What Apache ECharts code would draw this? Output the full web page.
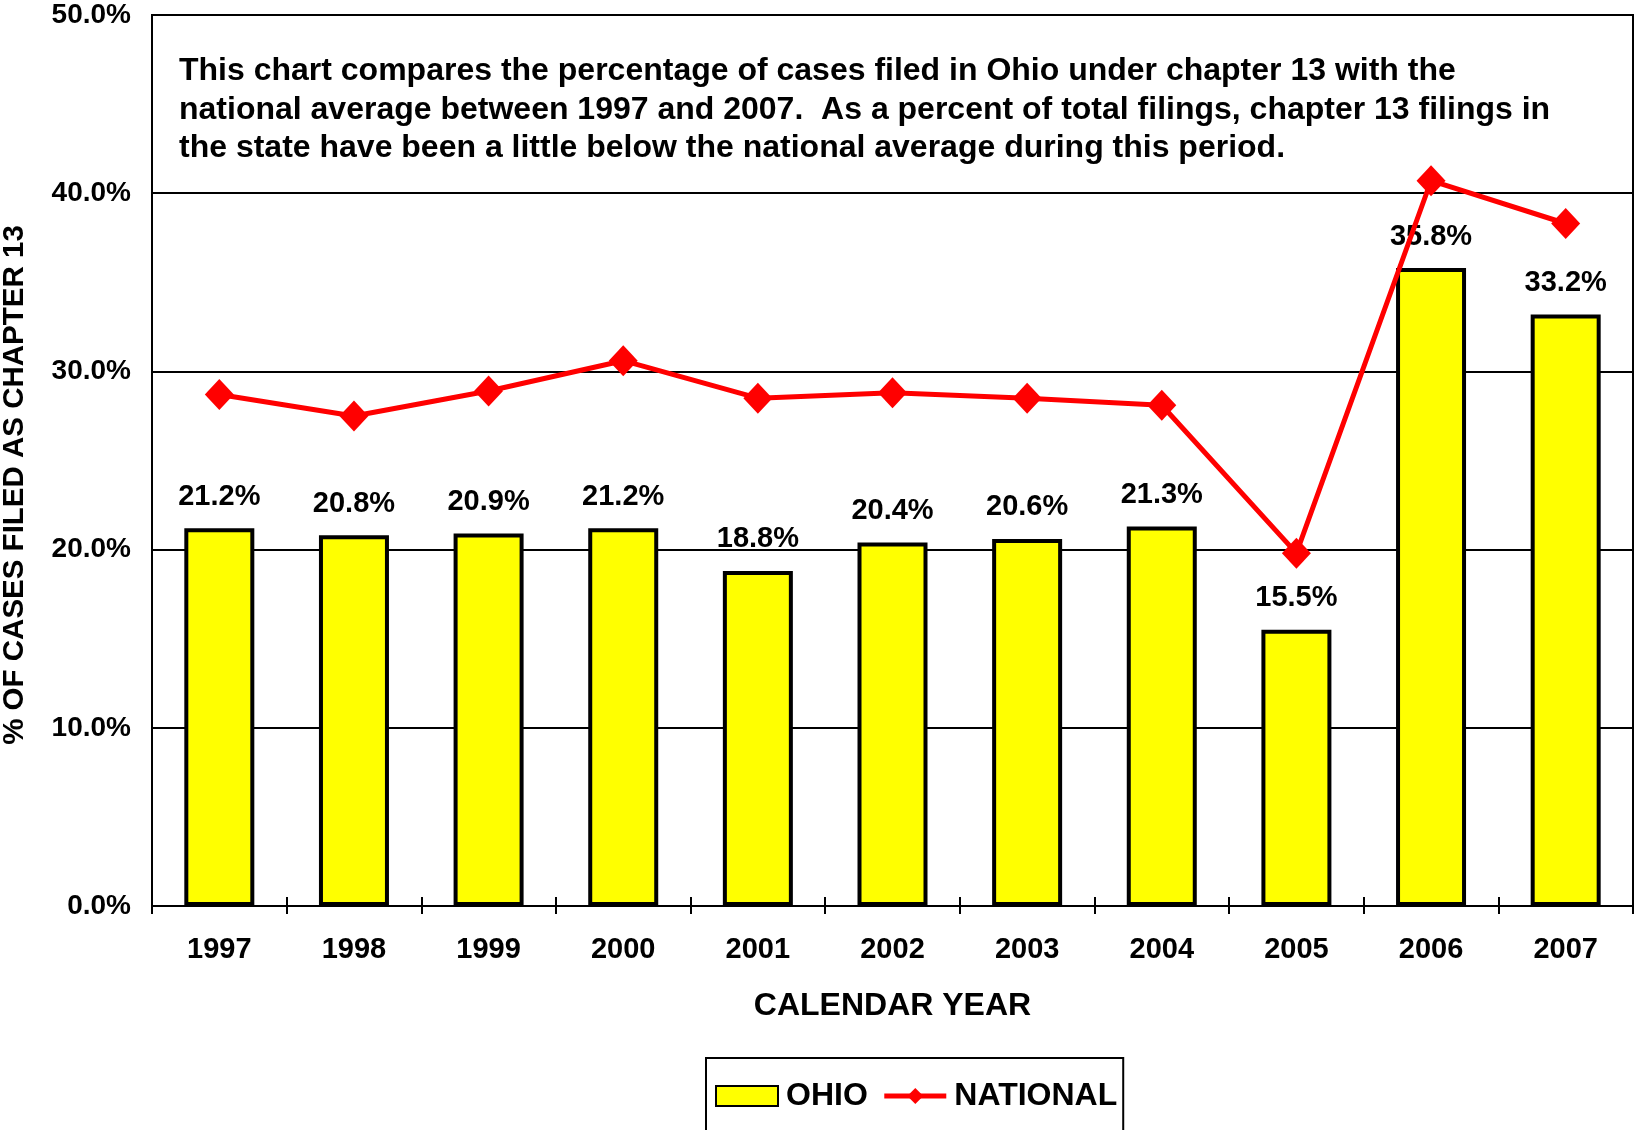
<!DOCTYPE html>
<html>
<head>
<meta charset="utf-8">
<script src="https://cdn.jsdelivr.net/npm/echarts@6/dist/echarts.min.js"></script>
<style>
html,body{margin:0;padding:0;background:#fff;}
#chart{width:1635px;height:1130px;}
</style>
</head>
<body>
<div id="chart"></div>
<script>
var years = ['1997','1998','1999','2000','2001','2002','2003','2004','2005','2006','2007'];
var ohio = [21.2, 20.8, 20.9, 21.2, 18.8, 20.4, 20.6, 21.3, 15.5, 35.8, 33.2];
var national = [28.7, 27.5, 28.9, 30.6, 28.5, 28.8, 28.5, 28.1, 19.8, 40.7, 38.3];
var yTicks = {min: 0, max: 50, interval: 10};
var noteText = 'This chart compares the percentage of cases filed in Ohio under chapter 13 with the\nnational average between 1997 and 2007.  As a percent of total filings, chapter 13 filings in\nthe state have been a little below the national average during this period.';

var FONT = '"Liberation Sans", Arial, sans-serif';
var chart = echarts.init(document.getElementById('chart'), null, {renderer: 'canvas'});
chart.setOption({
  animation: false,
  backgroundColor: '#fff',
  textStyle: {fontFamily: FONT},
  grid: {left: 152, top: 15, right: 2, bottom: 224, show: true, borderColor: '#000', borderWidth: 2},
  legend: {
    left: 706, top: 1058,
    padding: [22, 6, 40, 9],
    borderColor: '#000', borderWidth: 2,
    itemWidth: 62, itemHeight: 20, itemGap: 14,
    lineStyle: {width: 5},
    textStyle: {fontSize: 32, fontWeight: 'bold', color: '#000', fontFamily: FONT, lineHeight: 32, padding: [0, 0, 0, 3]},
    data: [{name: 'OHIO', icon: 'rect'}, {name: 'NATIONAL'}]
  },
  xAxis: [{
    type: 'category', data: years, position: 'bottom',
    axisLine: {lineStyle: {color: '#000', width: 2}},
    axisTick: {show: true, length: 8, lineStyle: {color: '#000', width: 2}},
    axisLabel: {fontSize: 29, fontWeight: 'bold', color: '#000', margin: 29, fontFamily: FONT, lineHeight: 29},
    name: 'CALENDAR YEAR', nameLocation: 'middle', nameGap: 84,
    nameTextStyle: {fontSize: 32, fontWeight: 'bold', color: '#000', fontFamily: FONT, lineHeight: 32}
  }, {
    type: 'category', data: years, position: 'bottom', offset: 0,
    axisLine: {show: false},
    axisTick: {show: true, inside: true, length: 9, lineStyle: {color: '#000', width: 2}},
    axisLabel: {show: false}
  }],
  yAxis: {
    type: 'value', min: yTicks.min, max: yTicks.max, interval: yTicks.interval,
    axisLine: {show: true, lineStyle: {color: '#000', width: 2}},
    axisTick: {show: true, inside: true, length: 8, lineStyle: {color: '#000', width: 2}},
    axisLabel: {fontSize: 28, fontWeight: 'bold', color: '#000', margin: 21, fontFamily: FONT,
      formatter: function (v) { return v.toFixed(1) + '%'; }},
    splitLine: {show: true, lineStyle: {color: '#000', width: 2}}
  },
  graphic: [{
    type: 'text', left: 179, top: 52,
    style: {text: noteText, font: 'bold 32px ' + FONT, fill: '#000', lineHeight: 38.5}
  }, {
    type: 'text', x: 15, y: 485, rotation: Math.PI / 2,
    style: {text: '% OF CASES FILED AS CHAPTER 13', font: 'bold 29.5px ' + FONT, fill: '#000',
      textAlign: 'center', textVerticalAlign: 'middle'}
  }],
  series: [{
    name: 'OHIO', type: 'bar', data: ohio, barWidth: 70, xAxisIndex: 0,
    itemStyle: {color: '#FFFF00', borderColor: '#000', borderWidth: 4},
    label: {show: true, position: 'top', distance: 17, fontSize: 29, fontWeight: 'bold', color: '#000',
      fontFamily: FONT, lineHeight: 29,
      formatter: function (p) { return p.value.toFixed(1) + '%'; }},
    z: 2
  }, {
    name: 'NATIONAL', type: 'line', data: national, xAxisIndex: 0,
    symbol: 'diamond', symbolSize: [29, 31],
    lineStyle: {color: '#FF0000', width: 5},
    itemStyle: {color: '#FF0000'},
    z: 3
  }]
});
</script>
</body>
</html>
